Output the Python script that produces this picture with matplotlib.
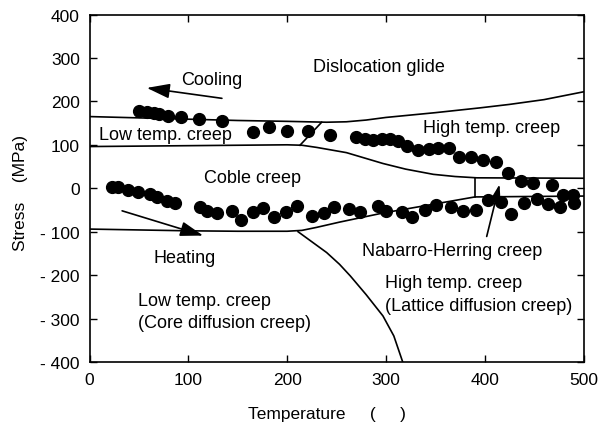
import numpy as np
import matplotlib
matplotlib.use("Agg")
import matplotlib.pyplot as plt

plt.rcParams['font.family'] = ['Liberation Sans', 'DejaVu Sans']

# measured points (temperature, stress)
cool_t = [50, 58, 65, 70, 79, 93, 111, 134, 165, 182, 200, 221, 243, 270, 279, 287,
          296, 304, 312, 321, 332, 344, 353, 364, 374, 386, 398, 411, 424, 437, 449,
          468, 479, 489]
cool_s = [178, 175, 174, 172, 166, 164, 159, 155, 130, 141, 132, 132, 123, 119, 114, 111,
          113, 113, 109, 98, 88, 90, 92, 93, 71, 71, 66, 60, 34, 17, 13,
          7, -16, -15]

heat_t = [23, 29, 39, 49, 61, 68, 78, 87, 112, 119, 129, 144, 153, 165, 176, 187, 199,
          210, 225, 237, 247, 263, 274, 292, 300, 316, 326, 340, 351, 366, 378, 391,
          403, 416, 427, 440, 453, 464, 476, 490]
heat_s = [4, 2, -4, -9, -14, -21, -29, -33, -44, -52, -58, -52, -74, -54, -46, -66, -54,
          -41, -64, -57, -44, -47, -55, -41, -52, -54, -66, -49, -39, -44, -53, -51,
          -27, -31, -59, -35, -25, -37, -44, -33]

# boundary lines of the deformation map
b1_t = [0, 50, 100, 150, 200, 240, 260, 280, 300, 350, 395, 425, 460, 500]
b1_s = [165, 162, 159, 156, 154, 152, 153, 157, 163, 174, 185, 193, 204, 222]
b2_t = [0, 100, 200, 215, 230, 260, 297, 320, 348, 370, 392, 500]
b2_s = [96, 98, 100, 99, 94, 82, 57, 44, 32, 27, 24, 23]
b3_t = [0, 50, 100, 150, 200, 215, 230, 253, 297, 345, 390, 500]
b3_s = [-94, -96, -98, -99, -99, -97, -90, -78, -57, -38, -20, -18]
b4_t = [211, 240, 253, 264, 280, 297, 308, 317]
b4_s = [-100, -148, -175, -202, -245, -294, -340, -400]
diag_t = [213, 235]
diag_s = [99, 152]
vert_t = [390, 390]
vert_s = [-20, 23]

yticks = [400, 300, 200, 100, 0, -100, -200, -300, -400]
ytick_labels = ['400', '300', '200', '100', '0', '- 100', '- 200', '- 300', '- 400']
xticks = [0, 100, 200, 300, 400, 500]

fig = plt.figure(figsize=(6.02, 4.27), dpi=100)
ax = fig.add_axes([0.1487, 0.1499, 0.8206, 0.8138])

for t, s in [(b1_t, b1_s), (b2_t, b2_s), (b3_t, b3_s), (b4_t, b4_s),
             (diag_t, diag_s), (vert_t, vert_s)]:
    ax.plot(t, s, color='black', lw=1.2)

ax.plot(cool_t, cool_s, 'o', color='black', ms=8.5, zorder=3)
ax.plot(heat_t, heat_s, 'o', color='black', ms=8.5, zorder=3)

big = dict(arrowstyle='-|>,head_length=1.4,head_width=0.45', color='black', lw=1.2,
           mutation_scale=10, shrinkA=0, shrinkB=0)
small = dict(arrowstyle='-|>,head_length=0.9,head_width=0.28', color='black', lw=1.2,
             mutation_scale=10, shrinkA=0, shrinkB=0)
ax.annotate('', xy=(58, 231), xytext=(134, 207), arrowprops=big)
ax.annotate('', xy=(115, -109), xytext=(33, -52), arrowprops=big)
ax.annotate('', xy=(415, 9), xytext=(402, -111), arrowprops=small)

fs = 13
ax.text(124, 250, 'Cooling', fontsize=fs, ha='center', va='center')
ax.text(293, 281, 'Dislocation glide', fontsize=fs, ha='center', va='center')
ax.text(77, 124, 'Low temp. creep', fontsize=fs, ha='center', va='center')
ax.text(407, 139, 'High temp. creep', fontsize=fs, ha='center', va='center')
ax.text(165, 25, 'Coble creep', fontsize=fs, ha='center', va='center')
ax.text(96, -159, 'Heating', fontsize=fs, ha='center', va='center')
ax.text(367, -144, 'Nabarro-Herring creep', fontsize=fs, ha='center', va='center')
ax.text(299, -217, 'High temp. creep', fontsize=fs, ha='left', va='center')
ax.text(299, -269, '(Lattice diffusion creep)', fontsize=fs, ha='left', va='center')
ax.text(49, -259, 'Low temp. creep', fontsize=fs, ha='left', va='center')
ax.text(49, -310, '(Core diffusion creep)', fontsize=fs, ha='left', va='center')

ax.set_xlim(0, 500)
ax.set_ylim(-400, 400)
ax.set_xticks(xticks)
ax.set_yticks(yticks)
ax.set_yticklabels(ytick_labels)
ax.tick_params(direction='in', length=5, width=1, top=True, right=True,
               labelsize=12.5, pad=7)
for sp in ax.spines.values():
    sp.set_linewidth(1.2)

fig.text(21 / 602, 1 - 193 / 427, 'Stress    (MPa)', rotation=90, fontsize=12.5,
         ha='center', va='center')
fig.text(327 / 602, 1 - 415 / 427, 'Temperature     (     )', fontsize=12.5,
         ha='center', va='center')

fig.savefig('out.png', dpi=100)
